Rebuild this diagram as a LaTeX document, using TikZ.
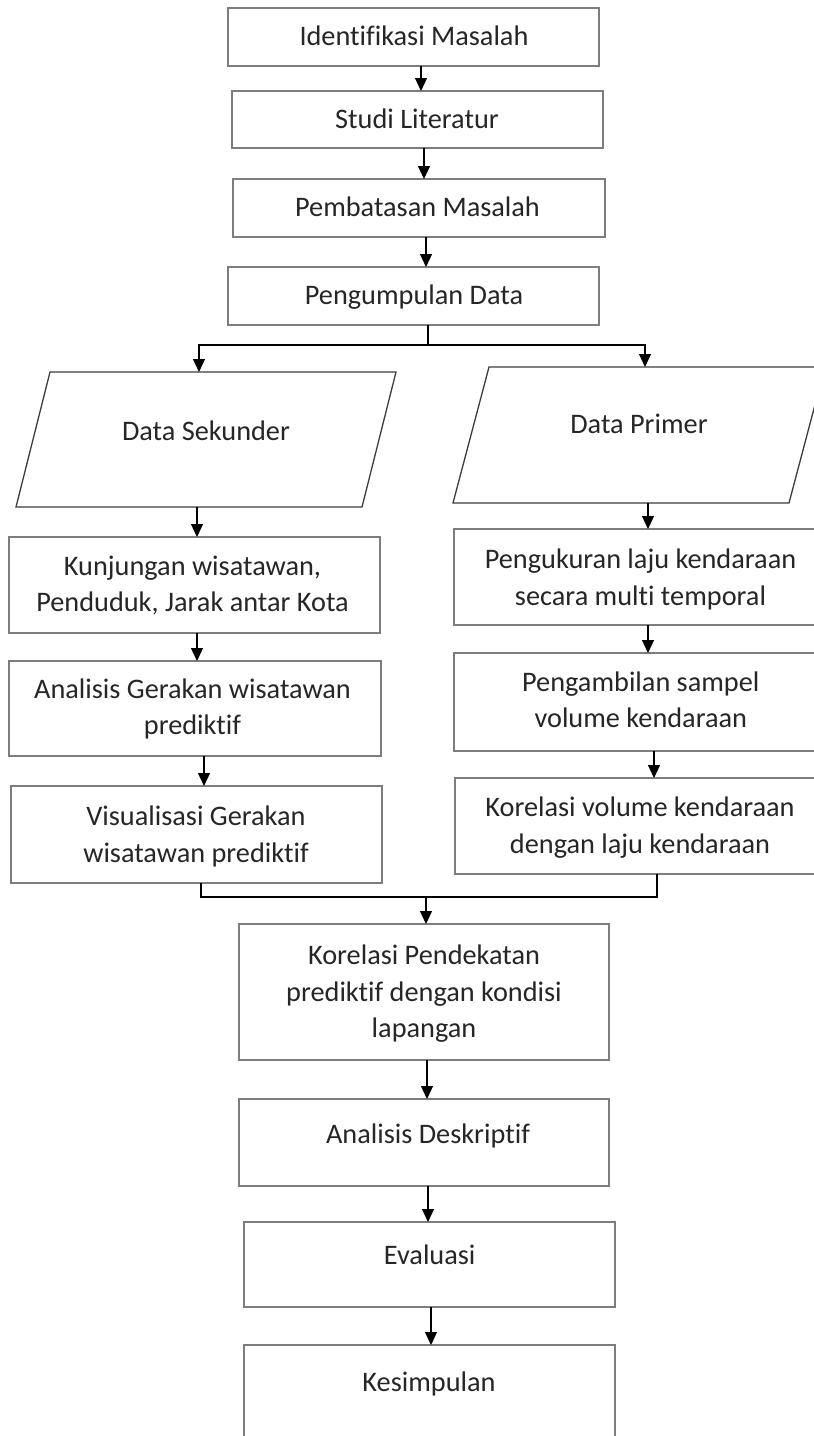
\documentclass[tikz,border=0pt]{standalone}
\usepackage{fontspec}
\setmainfont{Carlito}[Ligatures={NoCommon}]
\usetikzlibrary{calc,arrows.meta}
\newcommand\cf{\fontsize{28.3}{36.5}\selectfont}
\definecolor{boxgray}{RGB}{125,125,125}
\definecolor{paragray}{RGB}{60,60,60}
\tikzset{
  box/.style={draw=boxgray, line width=1.6pt, rectangle, inner sep=0pt, outer sep=0pt},
  frame/.style={draw=none, rectangle, inner sep=0pt, outer sep=0pt},
  para/.style={draw=paragray, line width=1.3pt, line join=miter},
  txt/.style={font=\cf, align=center, inner sep=0pt, outer sep=0pt, text=black!85},
  arr/.style={draw=black, line width=1.2pt, -{Triangle[length=13pt,width=12pt]}},
  ln/.style={draw=black, line width=1.2pt}
}
\begin{document}
\begin{tikzpicture}[x=1pt,y=-1pt]
\useasboundingbox (0,0) rectangle (814,1436);
\clip (0,0) rectangle (814,1436);
\fill[white] (0,0) rectangle (814,1436);

% top column
\node[box, minimum width=371, minimum height=58] (b1) at (413.5,37) {};
\node[box, minimum width=371, minimum height=57] (b2) at (417.5,119.5) {};
\node[box, minimum width=372, minimum height=58] (b3) at (419,208) {};
\node[box, minimum width=371, minimum height=58] (b4) at (413.5,296) {};
\node[txt] (t1) at (414,38) {\strut Identifikasi Masalah};
\node[txt] (t2) at (417,121) {\strut Studi Literatur};
\node[txt] (t3) at (417.5,209.5) {\strut Pembatasan Masalah};
\node[txt] (t4) at (414,297.5) {\strut Pengumpulan Data};

% parallelograms
\node[frame, minimum width=380, minimum height=135] (p1) at (206,439.5) {};
\draw[para] ($(p1.north west)+(34,0)$) -- (p1.north east) -- ($(p1.south east)+(-34,0)$) -- (p1.south west) -- cycle;
\node[frame, minimum width=372, minimum height=136] (p2) at (639,435) {};
\draw[para] ($(p2.north west)+(36,0)$) -- (p2.north east) -- ($(p2.south east)+(-36,0)$) -- (p2.south west) -- cycle;
\node[txt] (t5) at (206,433) {\strut Data Sekunder};
\node[txt] (t6) at (639,426.5) {\strut Data Primer};

% left column
\node[box, minimum width=371, minimum height=96] (k) at (194.5,585) {};
\node[box, minimum width=372, minimum height=95] (a) at (195,708.5) {};
\node[box, minimum width=371, minimum height=97] (v) at (196.5,834.5) {};
\node[txt] (t7) at (192.5,586) {\strut Kunjungan wisatawan,\\\strut Penduduk, Jarak antar Kota};
\node[txt] (t8) at (192.5,709) {\strut Analisis Gerakan wisatawan\\\strut prediktif};
\node[txt] (t9) at (196,836.5) {\strut Visualisasi Gerakan\\\strut wisatawan prediktif};

% right column
\node[box, minimum width=364, minimum height=96] (pu) at (636,577) {};
\node[box, minimum width=364, minimum height=98] (pa) at (636,702) {};
\node[box, minimum width=363, minimum height=96] (kv) at (636.5,826) {};
\node[txt] (t10) at (640.5,579.5) {\strut Pengukuran laju kendaraan\\\strut secara multi temporal};
\node[txt] (t11) at (640.8,702) {\strut Pengambilan sampel\\\strut volume kendaraan};
\node[txt] (t12) at (640,827.75) {\strut Korelasi volume kendaraan\\\strut dengan laju kendaraan};

% bottom column
\node[box, minimum width=370, minimum height=136] (kp) at (424,992) {};
\node[box, minimum width=370, minimum height=87] (ad) at (424,1142.5) {};
\node[box, minimum width=371, minimum height=85] (ev) at (429.5,1264.5) {};
\node[box, minimum width=371, minimum height=105] (ks) at (429.5,1397.5) {};
\node[txt] (t13) at (424,994) {\strut Korelasi Pendekatan\\\strut prediktif dengan kondisi\\\strut lapangan};
\node[txt] (t14) at (428,1136) {\strut Analisis Deskriptif};
\node[txt] (t15) at (429.7,1257) {\strut Evaluasi};
\node[txt] (t16) at (429,1384) {\strut Kesimpulan};

% connectors
\draw[arr] ([xshift=7.5]b1.south) -- ([xshift=3.5]b2.north);
\draw[arr] ([xshift=6.5]b2.south) -- ([xshift=5]b3.north);
\draw[arr] ([xshift=7]b3.south) -- ([xshift=12.5]b4.north);
\coordinate (s) at (428,345);
\draw[ln] ([xshift=14.5]b4.south) -- (s);
\draw[arr] (s) -| ([xshift=-7]p1.north);
\draw[arr] (s) -| ([xshift=6]p2.north);
\draw[arr] ([xshift=-9]p1.south) -- ([xshift=2.5]k.north);
\draw[arr] ([xshift=2.5]k.south) -- ([xshift=2]a.north);
\draw[arr] ([xshift=9]a.south) -- ([xshift=7.5]v.north);
\draw[arr] ([xshift=9]p2.south) -- ([xshift=12]pu.north);
\draw[arr] ([xshift=12]pu.south) -- ([xshift=12]pa.north);
\draw[arr] ([xshift=18]pa.south) -- ([xshift=17.5]kv.north);
\coordinate (m) at (426,897);
\draw[ln] ([xshift=4.5]v.south) |- (m) -| ([xshift=20.5]kv.south);
\draw[arr] (m) -- ([xshift=2]kp.north);
\draw[arr] ([xshift=3]kp.south) -- ([xshift=3]ad.north);
\draw[arr] ([xshift=4]ad.south) -- ([xshift=-1.5]ev.north);
\draw[arr] ([xshift=1.5]ev.south) -- ([xshift=1.5]ks.north);
\end{tikzpicture}
\end{document}
